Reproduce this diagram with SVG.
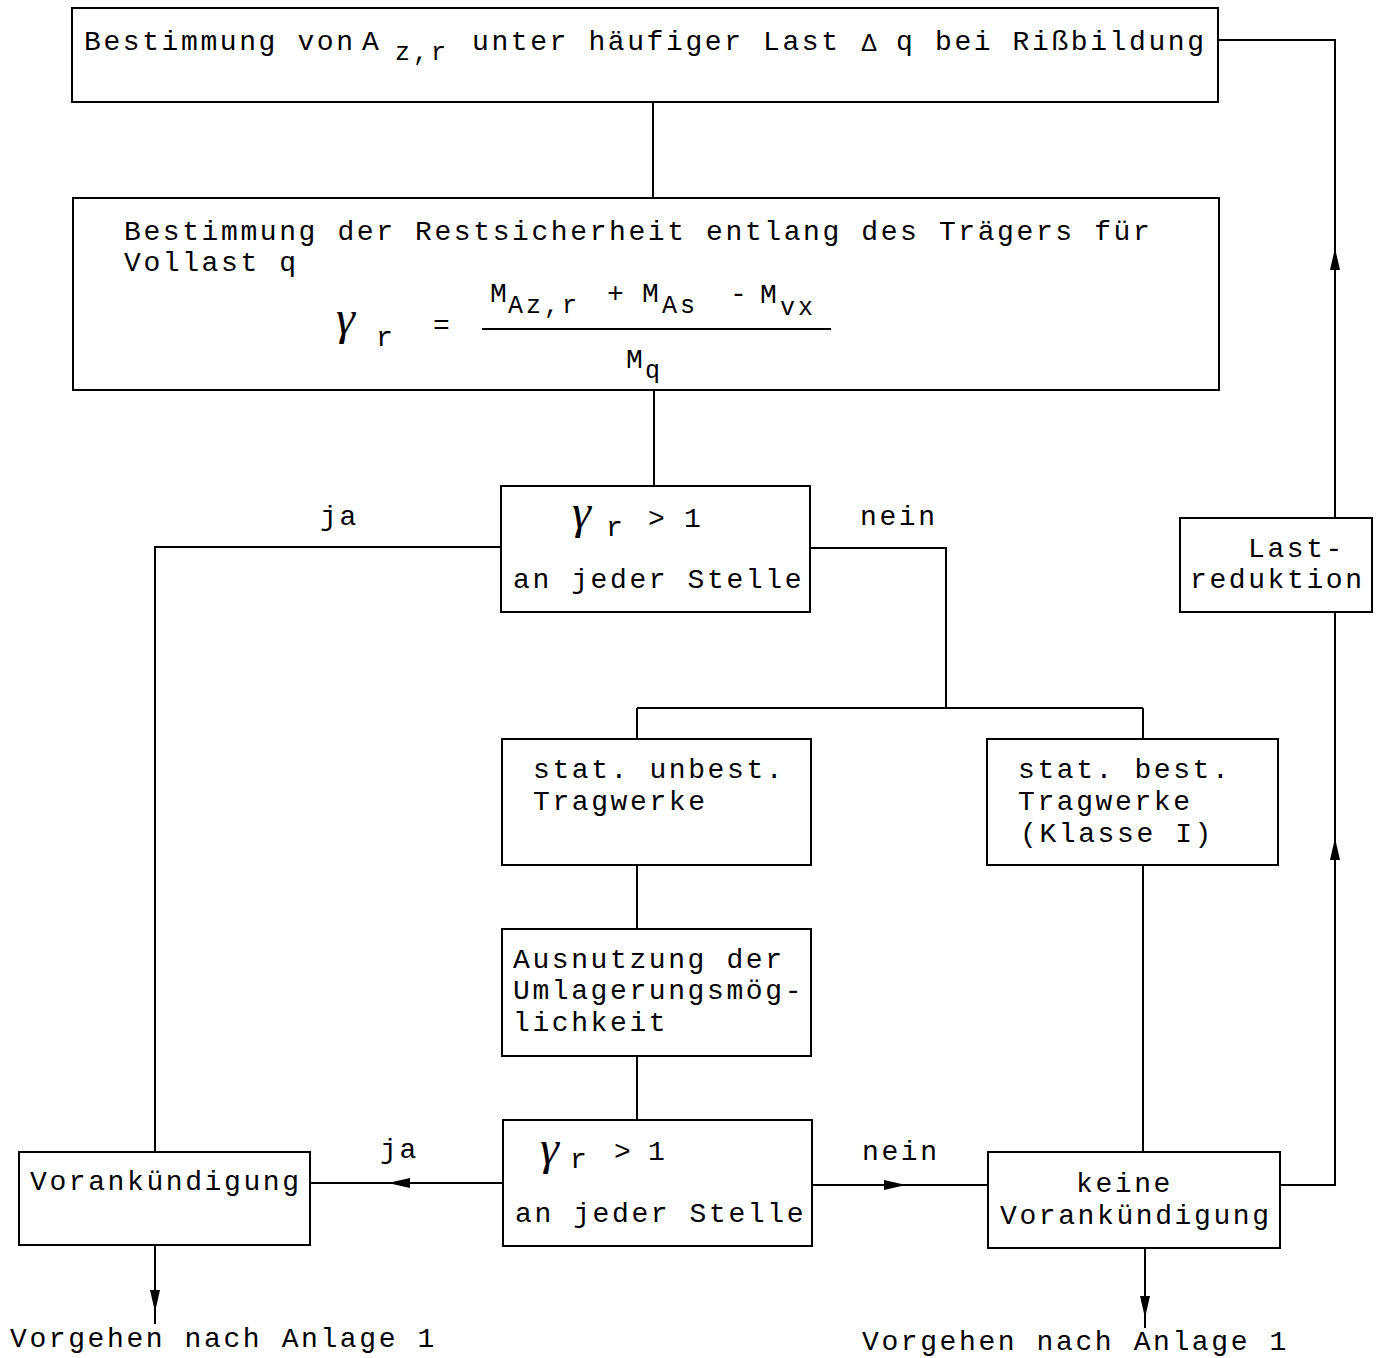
<svg xmlns="http://www.w3.org/2000/svg" width="1382" height="1358" viewBox="0 0 1382 1358">
<style>
.box{fill:none;stroke:#000;stroke-width:2}
.ln{fill:none;stroke:#000;stroke-width:2}
text{font-family:"Liberation Mono","DejaVu Sans Mono",monospace;font-size:28px;letter-spacing:2.6px;fill:#000}
.sub{font-size:25px;letter-spacing:3px}
.g{font-family:"Liberation Serif",serif;font-style:italic;font-size:48px;letter-spacing:0}
</style>
<defs>
<marker id="ah" markerUnits="userSpaceOnUse" markerWidth="22" markerHeight="10" refX="22" refY="5" orient="auto">
<path d="M0,0 L22,5 L0,10 z" fill="#000"/>
</marker>
</defs>
<rect width="1382" height="1358" fill="#fff"/>
<g id="connectors">
<line class="ln" x1="653" y1="102" x2="653" y2="198"/>
<line class="ln" x1="654" y1="390" x2="654" y2="486"/>
<polyline class="ln" points="501,547 155,547 155,1152"/>
<polyline class="ln" points="810,548 946,548 946,708"/>
<line class="ln" x1="637" y1="708" x2="1143" y2="708"/>
<line class="ln" x1="637" y1="708" x2="637" y2="739"/>
<line class="ln" x1="1143" y1="708" x2="1143" y2="739"/>
<line class="ln" x1="637" y1="865" x2="637" y2="929"/>
<line class="ln" x1="637" y1="1056" x2="637" y2="1120"/>
<line class="ln" x1="1143" y1="865" x2="1143" y2="1152"/>
<line class="ln" x1="503" y1="1183" x2="388" y2="1183" marker-end="url(#ah)"/>
<line class="ln" x1="390" y1="1183" x2="310" y2="1183"/>
<line class="ln" x1="812" y1="1185" x2="906" y2="1185" marker-end="url(#ah)"/>
<line class="ln" x1="904" y1="1185" x2="988" y2="1185"/>
<polyline class="ln" points="1280,1185 1335,1185 1335,838" marker-end="url(#ah)"/>
<line class="ln" x1="1335" y1="840" x2="1335" y2="612"/>
<line class="ln" x1="1335" y1="518" x2="1335" y2="248" marker-end="url(#ah)"/>
<polyline class="ln" points="1335,250 1335,40 1218,40"/>
<line class="ln" x1="155" y1="1245" x2="155" y2="1312" marker-end="url(#ah)"/>
<line class="ln" x1="155" y1="1310" x2="155" y2="1324"/>
<line class="ln" x1="1145" y1="1248" x2="1145" y2="1318" marker-end="url(#ah)"/>
<line class="ln" x1="1145" y1="1316" x2="1145" y2="1328"/>
</g>
<g id="labels">
<text x="320" y="525">ja</text>
<text x="860" y="525">nein</text>
<text x="380" y="1158">ja</text>
<text x="862" y="1160">nein</text>
<text x="10" y="1347">Vorgehen nach Anlage 1</text>
<text x="862" y="1350">Vorgehen nach Anlage 1</text>
</g>
<g id="n1">
<rect class="box" x="72" y="8" width="1146" height="94"/>
<text x="84" y="50">Bestimmung von</text>
<text x="362" y="50">A</text>
<text class="sub" x="395" y="60">z,r</text>
<text x="472" y="50">unter häufiger Last</text>
<text x="861" y="51" style="font-family:'Liberation Sans',sans-serif;font-size:24px;letter-spacing:0">Δ</text>
<text x="896" y="50">q</text>
<text x="935" y="50">bei Rißbildung</text>
</g>
<g id="n2">
<rect class="box" x="73" y="198" width="1146" height="192"/>
<text x="124" y="240">Bestimmung der Restsicherheit entlang des Trägers für</text>
<text x="124" y="271">Vollast q</text>
<text class="g" x="336" y="334">γ</text>
<text x="376" y="346">r</text>
<text x="433" y="334">=</text>
<line class="ln" x1="482" y1="329" x2="831" y2="329"/>
<text x="490" y="302">M</text>
<text class="sub" x="508" y="313">Az,r</text>
<text x="607" y="302">+</text>
<text x="642" y="302">M</text>
<text class="sub" x="662" y="313">As</text>
<text x="730" y="302">-</text>
<text x="760" y="303">M</text>
<text class="sub" x="780" y="315">vx</text>
<text x="626" y="368">M</text>
<text class="sub" x="645" y="378">q</text>
</g>
<g id="n3">
<rect class="box" x="501" y="486" width="309" height="126"/>
<text class="g" x="572" y="528">γ</text>
<text x="606" y="536">r</text>
<text x="648" y="527">&gt;</text>
<text x="684" y="527">1</text>
<text x="513" y="588">an jeder Stelle</text>
</g>
<g id="n4">
<rect class="box" x="502" y="739" width="309" height="126"/>
<text x="533" y="778">stat. unbest.</text>
<text x="533" y="810">Tragwerke</text>
</g>
<g id="n5">
<rect class="box" x="987" y="739" width="291" height="126"/>
<text x="1018" y="778">stat. best.</text>
<text x="1018" y="810">Tragwerke</text>
<text x="1020" y="842">(Klasse I)</text>
</g>
<g id="n6">
<rect class="box" x="502" y="929" width="309" height="127"/>
<text x="513" y="968">Ausnutzung der</text>
<text x="513" y="999">Umlagerungsmög-</text>
<text x="513" y="1031">lichkeit</text>
</g>
<g id="n7">
<rect class="box" x="503" y="1120" width="309" height="126"/>
<text class="g" x="540" y="1164">γ</text>
<text x="570" y="1168">r</text>
<text x="614" y="1160">&gt;</text>
<text x="648" y="1160">1</text>
<text x="515" y="1222">an jeder Stelle</text>
</g>
<g id="n8">
<rect class="box" x="19" y="1152" width="291" height="93"/>
<text x="30" y="1190">Vorankündigung</text>
</g>
<g id="n9">
<rect class="box" x="988" y="1152" width="292" height="96"/>
<text x="1076" y="1192">keine</text>
<text x="1000" y="1224">Vorankündigung</text>
</g>
<g id="n10">
<rect class="box" x="1180" y="518" width="192" height="94"/>
<text x="1248" y="557">Last-</text>
<text x="1190" y="588">reduktion</text>
</g>
</svg>
